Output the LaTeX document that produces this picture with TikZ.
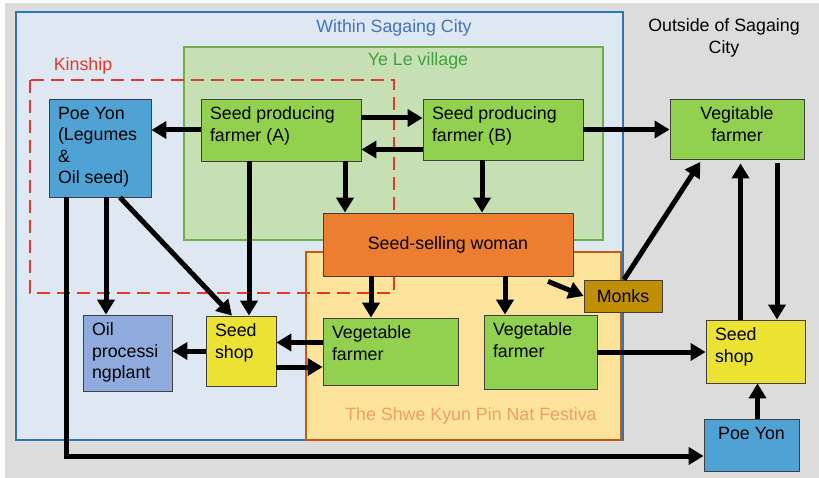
\documentclass[tikz,border=0pt]{standalone}
\usepackage{fontspec}
\setmainfont{Liberation Sans}
\usetikzlibrary{arrows.meta}
\definecolor{bggray}{HTML}{DCDCDC}
\definecolor{cityfill}{HTML}{DEE8F3}
\definecolor{cityline}{HTML}{2E75B6}
\definecolor{citytext}{HTML}{4472C4}
\definecolor{villfill}{HTML}{C6E0B4}
\definecolor{villline}{HTML}{70AD47}
\definecolor{villtext}{HTML}{3FA33F}
\definecolor{festfill}{HTML}{FDE49A}
\definecolor{festline}{HTML}{C55A11}
\definecolor{festtext}{HTML}{F0A060}
\definecolor{kinred}{HTML}{E8382C}
\definecolor{poeblue}{HTML}{4FA3D4}
\definecolor{farmgreen}{HTML}{92D050}
\definecolor{womanorange}{HTML}{ED7D31}
\definecolor{monkgold}{HTML}{BF8F00}
\definecolor{oilblue}{HTML}{8FAADC}
\definecolor{shopyellow}{HTML}{EBE234}
\newcommand\topl[3]{\parbox[c][#2][t]{#1}{\raggedright #3}}
\newcommand\topc[3]{\parbox[c][#2][t]{#1}{\centering #3}}

\begin{document}
\begin{tikzpicture}[x=1pt, y=-1pt,
  every node/.style={font=\fontsize{17.8}{21.5}\selectfont},
  box/.style={draw=black!75, line width=0.8pt, inner xsep=9pt, inner ysep=8pt},
  region/.style={line width=1.2pt},
  arr/.style={line width=5pt, -{Triangle[length=15pt,width=17pt]}}]
\useasboundingbox (0,0) rectangle (819,478);
\fill[bggray] (5,3) rectangle (819,478);
% regions
\draw[region, draw=cityline, fill=cityfill] (16,12) rectangle (623,440);
\draw[region, draw=villline, fill=villfill] (184,47) rectangle (603,240);
\draw[region, draw=festline, fill=festfill] (306,252) rectangle (621,440);
\draw[kinred, line width=2.8pt, dash pattern=on 13pt off 7pt] (30,80) rectangle (394,293);
\node[text=citytext] (citylbl) at (394,28) {Within Sagaing City};
\node[text=villtext] (villlbl) at (418,61) {Ye Le village};
\node[text=kinred] (kinlbl) at (83,66) {Kinship};
\node[text=festtext] (festlbl) at (471,416) {The Shwe Kyun Pin Nat Festiva};
\node[align=center] (outlbl) at (724,38) {Outside of Sagaing\\City};
% actors
\node[box, fill=poeblue] (poe1) at (100,148) {\topl{84pt}{82pt}{Poe Yon\\(Legumes\\\&\\Oil seed)}};
\node[box, fill=farmgreen] (spfA) at (281,130) {\topl{142pt}{46pt}{Seed producing\\farmer (A)}};
\node[box, fill=farmgreen] (spfB) at (503,129.5) {\topl{142pt}{45pt}{Seed producing\\farmer (B)}};
\node[box, fill=farmgreen] (vegout) at (737,129) {\topc{116pt}{44pt}{Vegitable\\farmer}};
\node[box, fill=womanorange, minimum width=250pt, minimum height=63pt] (woman) at (448,244.5) {Seed-selling woman};
\node[box, fill=monkgold, minimum width=78pt, minimum height=32pt, inner sep=0pt] (monks) at (623,296) {Monks};
\node[box, fill=oilblue] (oil) at (127.5,353) {\topl{71pt}{60pt}{Oil\\processi\\ngplant}};
\node[box, fill=shopyellow] (shop1) at (241,351) {\topl{52pt}{54pt}{Seed\\shop}};
\node[box, fill=farmgreen] (veg1) at (390.5,351.5) {\topl{117pt}{51pt}{Vegetable\\farmer}};
\node[box, fill=farmgreen] (veg2) at (540.5,352) {\topl{95pt}{58pt}{Vegetable\\farmer}};
\node[box, fill=shopyellow] (shop2) at (755.5,351.5) {\topl{81pt}{47pt}{Seed\\shop}};
\node[box, fill=poeblue] (poe2) at (751.5,445) {\topc{77pt}{36pt}{Poe Yon}};
% flows
\draw[arr] (spfA.west) -- (spfA.west -| poe1.east);
\draw[arr] ([yshift=12pt]spfA.east) -- ([yshift=12pt]spfA.east -| spfB.west);
\draw[arr] ([yshift=-20pt]spfB.west) -- ([yshift=-20pt]spfB.west -| spfA.east);
\draw[arr] ([xshift=64pt]spfA.south) -- ([xshift=64pt]spfA.south |- woman.north);
\draw[arr] ([xshift=-32pt]spfA.south) -- ([xshift=-32pt]spfA.south |- shop1.north);
\draw[arr] ([xshift=-21pt]spfB.south) -- ([xshift=-21pt]spfB.south |- woman.north);
\draw[arr] (spfB.east) -- (spfB.east -| vegout.west);
\draw[arr, shorten >=3pt] ([xshift=1pt]monks.north) -- ([xshift=-35pt]vegout.south);
\draw[arr, shorten <=4pt] ([xshift=40pt]vegout.south) -- ([xshift=40pt]vegout.south |- shop2.north);
\draw[arr, shorten >=4pt] ([xshift=-15pt]shop2.north) -- ([xshift=-15pt]shop2.north |- vegout.south);
\draw[arr] ([xshift=6pt]poe2.north) -- ([xshift=6pt]poe2.north |- shop2.south);
\draw[arr] ([xshift=100pt,yshift=-5pt]woman.south) -- (monks.west);
\draw[arr] ([xshift=-77pt]woman.south) -- ([xshift=-77pt]woman.south |- veg1.north);
\draw[arr] ([xshift=57pt]woman.south) -- ([xshift=57pt]woman.south |- veg2.north);
\draw[arr] (veg2.east) -- (veg2.east -| shop2.west);
\draw[arr] ([yshift=9pt]veg1.west) -- ([yshift=9pt]veg1.west -| shop1.east);
\draw[arr] ([yshift=-16pt]shop1.east) -- ([yshift=-16pt]shop1.east -| veg1.west);
\draw[arr] (shop1.west) -- (shop1.west -| oil.east);
\draw[arr] ([xshift=6pt]poe1.south) -- ([xshift=6pt]poe1.south |- oil.north);
\draw[arr] ([xshift=20pt]poe1.south) -- ([xshift=-9pt]shop1.north);
\draw[arr] ([xshift=-34pt]poe1.south) |- ([yshift=-11pt]poe2.west);
\end{tikzpicture}
\end{document}
